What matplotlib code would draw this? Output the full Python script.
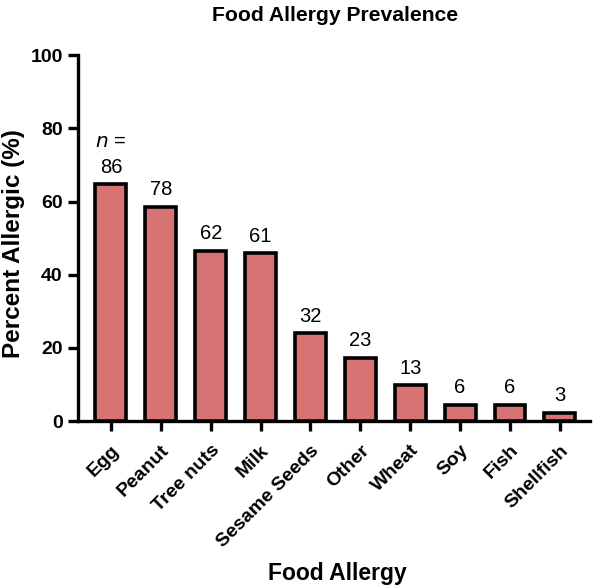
import matplotlib
matplotlib.use("Agg")
import matplotlib.pyplot as plt

categories = ["Egg", "Peanut", "Tree nuts", "Milk", "Sesame Seeds", "Other",
              "Wheat", "Soy", "Fish", "Shellfish"]
percent = [64.7, 58.6, 46.6, 45.9, 24.1, 17.3, 9.8, 4.5, 4.5, 2.3]
counts = [86, 78, 62, 61, 32, 23, 13, 6, 6, 3]
yticks = [0, 20, 40, 60, 80, 100]

plt.rcParams['font.family'] = ['Liberation Sans', 'DejaVu Sans']

fig = plt.figure(figsize=(6, 5.88), dpi=100)
ax = fig.add_axes([0.13, 0.284, 0.853, 0.622])

x = list(range(len(categories)))
ax.bar(x, percent, width=0.62, color="#D77372", edgecolor="black", linewidth=2.6, zorder=3)

for xi, p, c in zip(x, percent, counts):
    ax.text(xi, p + 2.0, str(c), ha="center", va="bottom", fontsize=14.5)
ax.text(0, percent[0] + 9.2, "$n$ =", ha="center", va="bottom", fontsize=14.5)

ax.set_xlim(-0.66, 9.6)
ax.set_ylim(0, 100)
ax.set_yticks(yticks)
ax.set_yticklabels([str(t) for t in yticks], fontsize=14, fontweight="bold")
ax.set_xticks(x)
ax.set_xticklabels(categories, rotation=45, ha="right", rotation_mode="anchor",
                   fontsize=14, fontweight="bold")

for s in ["top", "right"]:
    ax.spines[s].set_visible(False)
for s in ["left", "bottom"]:
    ax.spines[s].set_linewidth(2.4)
ax.tick_params(axis="both", width=2.4, length=7, pad=4)
ax.tick_params(axis="x", pad=8)

fig.text(0.022, 0.585, "Percent Allergic (%)", rotation=90, ha="center", va="center",
         fontsize=17.5, fontweight="bold")
fig.text(0.562, 0.025, "Food Allergy", ha="center", va="center", fontsize=16.5, fontweight="bold")
fig.text(0.558, 0.974, "Food Allergy Prevalence", ha="center", va="center", fontsize=15.2, fontweight="bold")

fig.savefig("out.png", dpi=100)
